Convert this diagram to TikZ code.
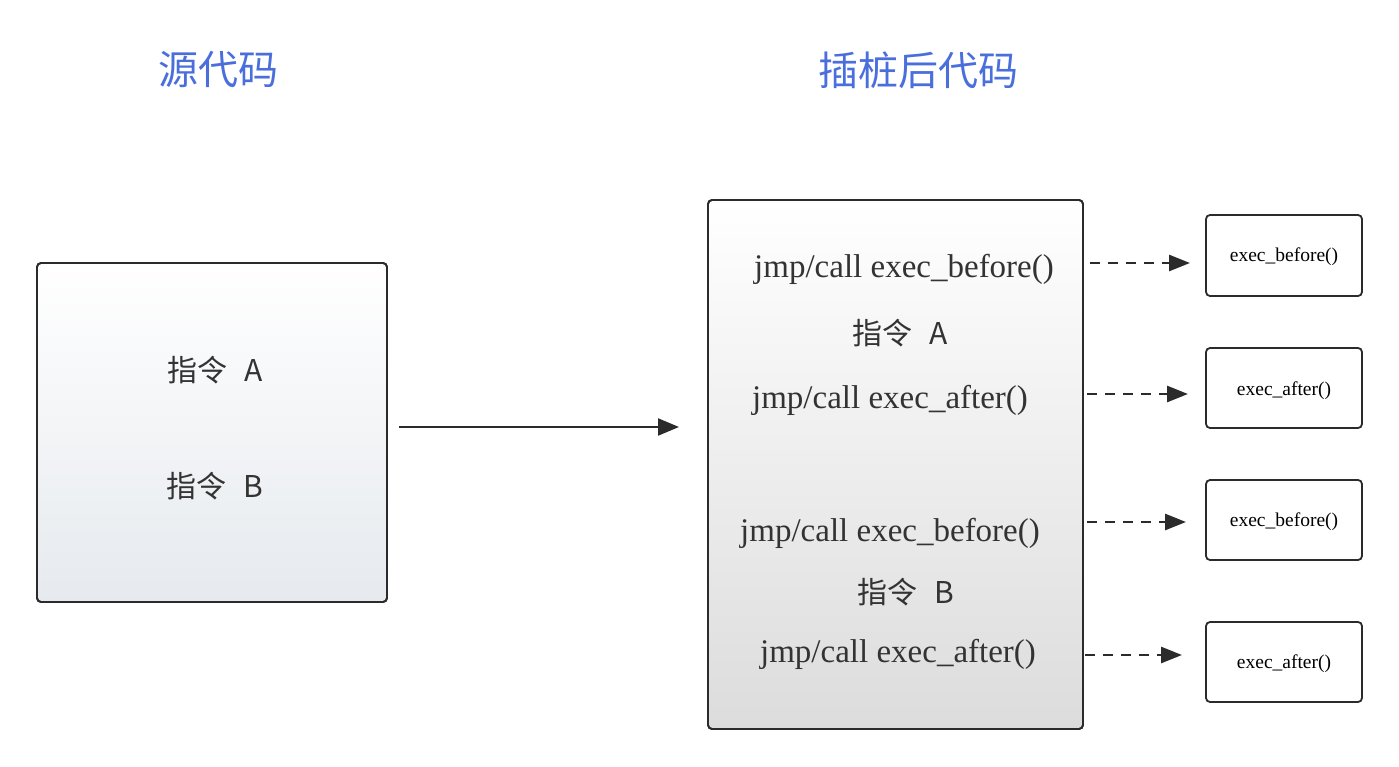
\documentclass[tikz,border=0pt]{standalone}
\usepackage{fontspec}
\setmainfont{Liberation Serif}
\newfontfamily\cjk{Noto Sans CJK SC}
\usetikzlibrary{arrows.meta}
\definecolor{titleblue}{HTML}{4A6FDC}
\definecolor{edge}{HTML}{2B2B2B}
\definecolor{txt}{HTML}{333333}
\definecolor{leftbot}{HTML}{E6EAEE}
\definecolor{rightbot}{HTML}{DCDCDC}
\tikzset{
  bigbox/.style={draw=edge, line width=1.8pt, rounded corners=4pt},
  smallbox/.style={draw=edge, line width=1.8pt, rounded corners=4pt, fill=white},
  title/.style={inner sep=0pt, text=titleblue, font=\cjk\fontsize{40}{44}\selectfont},
  instr/.style={inner sep=0pt, text=txt, font=\cjk\fontsize{30}{34}\selectfont},
  code/.style={inner sep=0pt, text=txt, font=\fontsize{33}{36}\selectfont},
  fn/.style={inner sep=0pt, text=black, font=\fontsize{19.5}{22}\selectfont},
  dasharrow/.style={draw=edge, line width=2.8pt, dash pattern=on 10pt off 8pt, -{Triangle[length=21pt, width=16pt]}},
  solidarrow/.style={draw=edge, line width=2.2pt, -{Triangle[length=21pt, width=17pt]}}
}
\begin{document}
\begin{tikzpicture}[x=1pt, y=-1pt]
\useasboundingbox (0,0) rectangle (1399,767);
% titles
\node[title] (t1) at (218,70) {源代码};
\node[title] (t2) at (918,70) {插桩后代码};
% left box
\shade[bigbox, top color=white, bottom color=leftbot] (37,263) rectangle (387,602);
\draw[bigbox] (37,263) rectangle (387,602);
\node[instr] (la) at (215,370) {指令\hspace{0.55em}A};
\node[instr] (lbb) at (215,486) {指令\hspace{0.55em}B};
% right box
\shade[bigbox, top color=white, bottom color=rightbot] (708,200) rectangle (1083,729);
\draw[bigbox] (708,200) rectangle (1083,729);
\node[code] (c1) at (904,269) {jmp/call exec\_before()};
\node[instr] (ra) at (900,333) {指令\hspace{0.55em}A};
\node[code] (c2) at (890,400) {jmp/call exec\_after()};
\node[code] (c3) at (890,533) {jmp/call exec\_before()};
\node[instr] (rb) at (906,592) {指令\hspace{0.55em}B};
\node[code] (c4) at (898,654) {jmp/call exec\_after()};
% main arrow
\coordinate (m1) at (399,427);
\coordinate (m2) at (679,427);
\draw[solidarrow] (m1) -- (m2);
% small boxes
\draw[smallbox] (1206,215) rectangle (1362,296);
\node[fn] (f1) at (1284,257) {exec\_before()};
\draw[smallbox] (1206,348) rectangle (1362,428);
\node[fn] (f2) at (1284,391) {exec\_after()};
\draw[smallbox] (1206,480) rectangle (1362,560);
\node[fn] (f3) at (1284,522) {exec\_before()};
\draw[smallbox] (1206,622) rectangle (1362,702);
\node[fn] (f4) at (1284,664) {exec\_after()};
% dashed arrows
\coordinate (a1s) at (1090,263); \coordinate (a1e) at (1190,263);
\coordinate (a2s) at (1087,394); \coordinate (a2e) at (1188,394);
\coordinate (a3s) at (1087,522); \coordinate (a3e) at (1186,522);
\coordinate (a4s) at (1085,655); \coordinate (a4e) at (1182,655);
\draw[dasharrow] (a1s) -- (a1e);
\draw[dasharrow] (a2s) -- (a2e);
\draw[dasharrow] (a3s) -- (a3e);
\draw[dasharrow] (a4s) -- (a4e);
\end{tikzpicture}
\end{document}
